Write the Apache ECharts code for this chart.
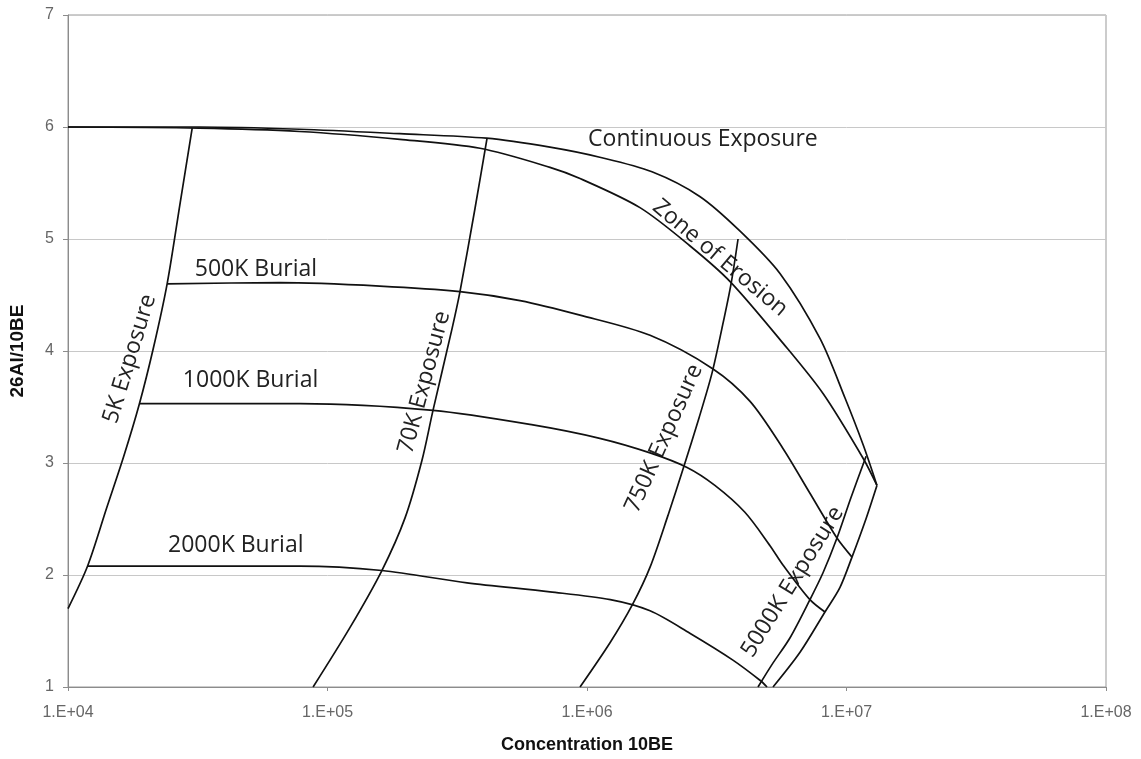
<!DOCTYPE html>
<html>
<head>
<meta charset="utf-8">
<title>26Al/10Be burial diagram</title>
<script src="https://cdn.jsdelivr.net/npm/echarts@6/dist/echarts.min.js"></script>
<style>
  html, body { margin: 0; padding: 0; background: #fff; }
  #chart { width: 1141px; height: 759px; }
</style>
</head>
<body>
<div id="chart"></div>
<script>
// curves: 10Be concentration (x) and 26Al/10Be ratio (y)
var contExpX = [1e4, 3.2e4, 7.8e4, 1.9e5, 4.1e5, 7.2e5, 1.12e6, 1.78e6, 2.72e6, 3.89e6, 5.55e6, 7.91e6, 9.87e6, 1.16e7, 1.31e7];
var contExpY = [6.0, 6.0, 5.98, 5.94, 5.9, 5.82, 5.73, 5.6, 5.38, 5.07, 4.69, 4.11, 3.58, 3.16, 2.8];

var erosionX = [1e4, 3.2e4, 7.8e4, 1.9e5, 3.87e5, 7.2e5, 9.4e5, 1.6e6, 2.49e6, 3.56e6, 5.69e6, 8.12e6, 1.16e7, 1.31e7];
var erosionY = [6.0, 5.99, 5.96, 5.89, 5.81, 5.64, 5.54, 5.28, 4.94, 4.62, 4.07, 3.62, 3.04, 2.8];

var exp5kX = [3.01e4, 2.7e4, 2.41e4, 2.13e4, 1.88e4, 1.64e4, 1.41e4, 1.19e4, 1e4];
var exp5kY = [5.99, 5.31, 4.6, 4.02, 3.52, 3.06, 2.6, 2.08, 1.7];

var exp70kX = [4.12e5, 3.7e5, 3.24e5, 3.02e5, 2.55e5, 2.31e5, 1.99e5, 1.62e5, 1.22e5, 8.8e4];
var exp70kY = [5.9, 5.27, 4.53, 4.2, 3.47, 3.02, 2.51, 2.04, 1.53, 1.0];

var exp750kX = [3.82e6, 3.59e6, 3.31e6, 3.03e6, 2.7e6, 2.37e6, 2.05e6, 1.75e6, 1.5e6, 1.23e6, 9.4e5];
var exp750kY = [5.0, 4.6, 4.2, 3.8, 3.4, 2.98, 2.53, 2.07, 1.74, 1.4, 1.0];

var exp5000kX = [1.19e7, 1.04e7, 9.19e6, 8.12e6, 7.23e6, 6.06e6, 5.16e6, 4.56e6];
var exp5000kY = [3.06, 2.69, 2.33, 2.02, 1.78, 1.44, 1.2, 1.0];

var satBurialX = [1.31e7, 1.18e7, 1.05e7, 9.44e6, 8.26e6, 6.62e6, 5.21e6];
var satBurialY = [2.8, 2.48, 2.16, 1.89, 1.67, 1.31, 1.0];

var bur500kX = [2.41e4, 6.56e4, 1.59e5, 3.24e5, 5.52e5, 9.4e5, 1.75e6, 3.06e6, 4.25e6, 5.69e6, 7.23e6, 9.19e6, 1.05e7];
var bur500kY = [4.6, 4.61, 4.58, 4.53, 4.45, 4.32, 4.14, 3.84, 3.55, 3.13, 2.73, 2.33, 2.16];

var bur1000kX = [1.89e4, 7.84e4, 2.55e5, 6.19e5, 1.12e6, 1.75e6, 2.43e6, 3.11e6, 4.06e6, 5.08e6, 5.69e6, 7.23e6, 8.26e6];
var bur1000kY = [3.53, 3.53, 3.47, 3.34, 3.22, 3.09, 2.96, 2.8, 2.56, 2.26, 2.09, 1.78, 1.67];

var bur2000kX = [1.19e4, 7.84e4, 1.62e5, 3.45e5, 7.2e5, 1.23e6, 1.75e6, 2.49e6, 3.65e6, 4.64e6, 4.94e6];
var bur2000kY = [2.08, 2.08, 2.04, 1.93, 1.85, 1.78, 1.68, 1.48, 1.24, 1.06, 1.0];

// text labels: [text, x, y, rotation in degrees, align]
var labels = [
  ['Continuous Exposure', 1.01e6, 5.89, 0, 'left'],
  ['Zone of Erosion', 3.26e6, 4.83, -40, 'center'],
  ['500K Burial', 3.08e4, 4.73, 0, 'left'],
  ['1000K Burial', 2.77e4, 3.74, 0, 'left'],
  ['2000K Burial', 2.43e4, 2.26, 0, 'left'],
  ['5K Exposure', 1.73e4, 3.93, 73, 'center'],
  ['70K Exposure', 2.36e5, 3.72, 75, 'center'],
  ['750K Exposure', 1.98e6, 3.22, 66, 'center'],
  ['5000K Exposure', 6.2e6, 1.94, 58, 'center']
];

var yRange = [1, 7];

function pairs(xs, ys) {
  return xs.map(function (x, i) { return [x, ys[i]]; });
}

var curves = [
  ['Continuous Exposure', contExpX, contExpY],
  ['Zone of Erosion', erosionX, erosionY],
  ['5K Exposure', exp5kX, exp5kY],
  ['70K Exposure', exp70kX, exp70kY],
  ['750K Exposure', exp750kX, exp750kY],
  ['5000K Exposure', exp5000kX, exp5000kY],
  ['Saturation Burial', satBurialX, satBurialY],
  ['500K Burial', bur500kX, bur500kY],
  ['1000K Burial', bur1000kX, bur1000kY],
  ['2000K Burial', bur2000kX, bur2000kY]
];

var chart = echarts.init(document.getElementById('chart'));

var option = {
  animation: false,
  backgroundColor: '#fff',
  grid: {
    left: 68, right: 35, top: 15, bottom: 69,
    show: true, borderColor: '#999', borderWidth: 1
  },
  xAxis: {
    type: 'log',
    logBase: 10,
    min: 1e4,
    max: 1e8,
    name: 'Concentration 10BE',
    nameLocation: 'middle',
    nameGap: 49,
    nameTextStyle: { fontFamily: 'Liberation Sans', fontWeight: 'bold', fontSize: 18, color: '#111' },
    axisLine: { lineStyle: { color: '#8c8c8c' } },
    axisTick: { length: 4, lineStyle: { color: '#8c8c8c' } },
    axisLabel: {
      margin: 18,
      fontFamily: 'Liberation Sans', fontSize: 16, color: '#666',
      formatter: function (v) {
        var e = Math.round(Math.log10(v));
        return '1.E+' + (e < 10 ? '0' + e : e);
      }
    },
    splitLine: { show: false }
  },
  yAxis: {
    type: 'value',
    min: yRange[0],
    max: yRange[1],
    interval: 1,
    name: '26Al/10BE',
    nameLocation: 'middle',
    nameGap: 41,
    nameRotate: 90,
    nameTextStyle: { fontFamily: 'Liberation Sans', fontWeight: 'bold', fontSize: 19, color: '#111' },
    axisLine: { show: true, lineStyle: { color: '#8c8c8c' } },
    axisTick: { show: true, length: 5, lineStyle: { color: '#8c8c8c' } },
    axisLabel: { margin: 14, fontFamily: 'Liberation Sans', fontSize: 16, color: '#666' },
    splitLine: { show: true, lineStyle: { color: '#c8c8c8', width: 1 } }
  },
  series: curves.map(function (c) {
    return {
      name: c[0],
      type: 'line',
      data: pairs(c[1], c[2]),
      smooth: 0.3,
      showSymbol: false,
      symbol: 'none',
      lineStyle: { color: '#111', width: 1.7 },
      silent: true
    };
  })
};

chart.setOption(option);

// place the curve labels at their data positions
var texts = labels.map(function (l) {
  var p = chart.convertToPixel({ gridIndex: 0 }, [l[1], l[2]]);
  return {
    type: 'text',
    x: p[0],
    y: p[1],
    rotation: l[3] * Math.PI / 180,
    style: {
      text: l[0],
      fontFamily: 'Open Sans',
      fontSize: 23,
      fill: '#222',
      align: l[4],
      verticalAlign: 'middle'
    },
    silent: true
  };
});
chart.setOption({ graphic: texts });
</script>
</body>
</html>
